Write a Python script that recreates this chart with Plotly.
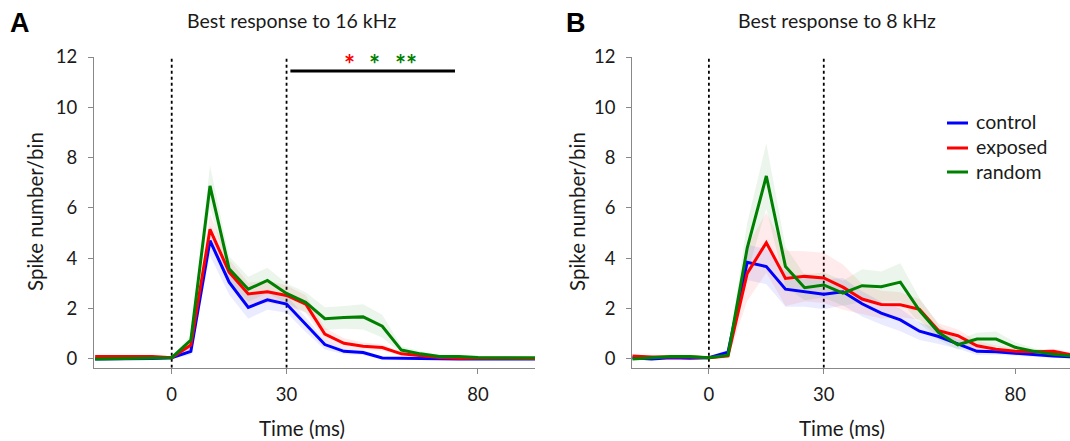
import plotly.graph_objects as go

W, H = 1070, 441

# ---------------- data ----------------
time_ms = [-20, -15, -10, -5, 0, 5, 10, 15, 20, 25, 30, 35, 40, 45, 50, 55, 60, 65, 70, 75, 80, 85, 90, 95]

control_A = [0.0, 0.0, 0.0, 0.02, 0.05, 0.3, 4.7, 3.05, 2.05, 2.35, 2.18, 1.37, 0.57, 0.3, 0.25, 0.04, 0.02, 0.02, 0.01, 0.0, 0.0, 0.0, 0.0, 0.0]
exposed_A = [0.1, 0.1, 0.1, 0.1, 0.05, 0.55, 5.15, 3.45, 2.58, 2.67, 2.52, 2.18, 0.99, 0.62, 0.5, 0.45, 0.2, 0.13, 0.06, 0.03, 0.02, 0.02, 0.02, 0.02]
random_A = [0.0, 0.02, 0.03, 0.03, 0.05, 0.75, 6.88, 3.58, 2.77, 3.12, 2.6, 2.25, 1.6, 1.65, 1.67, 1.3, 0.35, 0.2, 0.1, 0.1, 0.06, 0.05, 0.05, 0.05]
sem_control_A = [0.03, 0.03, 0.03, 0.03, 0.03, 0.15, 0.6, 0.5, 0.45, 0.4, 0.35, 0.3, 0.2, 0.12, 0.1, 0.05, 0.03, 0.03, 0.03, 0.03, 0.03, 0.03, 0.03, 0.03]
sem_exposed_A = [0.05, 0.05, 0.05, 0.05, 0.05, 0.2, 0.6, 0.5, 0.45, 0.45, 0.4, 0.35, 0.25, 0.2, 0.15, 0.12, 0.08, 0.05, 0.05, 0.05, 0.05, 0.05, 0.05, 0.05]
sem_random_A = [0.03, 0.03, 0.03, 0.03, 0.03, 0.2, 0.8, 0.5, 0.5, 0.5, 0.4, 0.4, 0.45, 0.45, 0.5, 0.45, 0.15, 0.1, 0.05, 0.05, 0.05, 0.05, 0.05, 0.05]

control_B = [0.05, 0.0, 0.05, 0.03, 0.05, 0.27, 3.84, 3.67, 2.77, 2.67, 2.57, 2.67, 2.19, 1.82, 1.55, 1.1, 0.89, 0.6, 0.3, 0.28, 0.22, 0.18, 0.12, 0.08]
exposed_B = [0.12, 0.08, 0.08, 0.08, 0.05, 0.12, 3.4, 4.62, 3.2, 3.28, 3.22, 2.85, 2.38, 2.16, 2.15, 1.97, 1.12, 0.92, 0.52, 0.38, 0.3, 0.28, 0.3, 0.15]
random_B = [0.0, 0.05, 0.1, 0.1, 0.05, 0.15, 4.4, 7.27, 3.67, 2.83, 2.94, 2.61, 2.91, 2.87, 3.05, 1.92, 1.05, 0.56, 0.79, 0.79, 0.46, 0.3, 0.18, 0.12]
sem_control_B = [0.05, 0.05, 0.05, 0.05, 0.05, 0.1, 0.7, 0.7, 0.7, 0.6, 0.6, 0.55, 0.5, 0.45, 0.45, 0.35, 0.3, 0.2, 0.15, 0.12, 0.1, 0.08, 0.08, 0.08]
sem_exposed_B = [0.05, 0.05, 0.05, 0.05, 0.05, 0.1, 1.1, 1.2, 1.1, 1.0, 1.0, 0.9, 0.6, 0.55, 0.5, 0.4, 0.3, 0.25, 0.2, 0.15, 0.12, 0.1, 0.1, 0.08]
sem_random_B = [0.05, 0.05, 0.05, 0.05, 0.05, 0.1, 1.0, 1.3, 0.8, 0.5, 0.5, 0.5, 0.65, 0.6, 0.75, 0.5, 0.3, 0.2, 0.25, 0.3, 0.2, 0.12, 0.1, 0.08]

group_names = ["control", "exposed", "random"]
panel_titles = ["Best response to 16 kHz", "Best response to 8 kHz"]
panel_letters = ["A", "B"]
x_tick_vals = [0, 30, 80]
y_tick_vals = [0, 2, 4, 6, 8, 10, 12]
stim_window = [0, 30]
sig_window_A = [31, 74]
sig_level_A = 11.44
sig_stars_A = [("*", 46.5, "red"), ("*", 53.0, "green"), ("**", 61.2, "green")]

# ---------------- style ----------------
line_colors = ["#0000ff", "#ff0000", "#008000"]
band_colors = ["rgba(0,0,255,0.08)", "rgba(255,0,0,0.08)", "rgba(0,128,0,0.08)"]
FONT = "Lato"
TXT = "#1a1a1a"
AXC = "#888888"


def px(x):
    return x / W


def py(y):
    return 1 - y / H


fig = go.Figure()

panels = [
    ("x", "y", [control_A, exposed_A, random_A], [sem_control_A, sem_exposed_A, sem_random_A]),
    ("x2", "y2", [control_B, exposed_B, random_B], [sem_control_B, sem_exposed_B, sem_random_B]),
]

for xa, ya, means, sems in panels:
    for i, (m, s) in enumerate(zip(means, sems)):
        upper = [a + b for a, b in zip(m, s)]
        lower = [a - b for a, b in zip(m, s)]
        fig.add_trace(go.Scatter(
            x=time_ms + time_ms[::-1], y=upper + lower[::-1],
            fill="toself", fillcolor=band_colors[i], line=dict(width=0),
            hoverinfo="skip", showlegend=False, xaxis=xa, yaxis=ya))
    for i, m in enumerate(means):
        fig.add_trace(go.Scatter(
            x=time_ms, y=m, mode="lines", name=group_names[i],
            line=dict(color=line_colors[i], width=3),
            showlegend=False, xaxis=xa, yaxis=ya))

axis_common = dict(
    showgrid=False, zeroline=False, showline=True, linecolor=AXC, linewidth=1.3,
    ticks="outside", ticklen=5, tickcolor=AXC, tickwidth=1.3,
    tickfont=dict(family=FONT, size=18.5, color=TXT), automargin=False,
)

y_bottom = -0.35
fig.update_layout(
    width=W, height=H,
    margin=dict(l=0, r=0, t=0, b=0),
    plot_bgcolor="white", paper_bgcolor="white",
    showlegend=False,
    xaxis=dict(axis_common, domain=[px(94), px(535)], range=[-20.3, 94.9],
               tickvals=x_tick_vals, ticklabelstandoff=5, anchor="y"),
    yaxis=dict(axis_common, domain=[py(367.7), py(57)], range=[y_bottom, 12],
               tickvals=y_tick_vals, ticklabelstandoff=7, anchor="x"),
    xaxis2=dict(axis_common, domain=[px(632.3), 1.0], range=[-20.0, 94.3],
                tickvals=x_tick_vals, ticklabelstandoff=5, anchor="y2"),
    yaxis2=dict(axis_common, domain=[py(367.7), py(57)], range=[y_bottom, 12],
                tickvals=y_tick_vals, ticklabelstandoff=7, anchor="x2"),
)

shapes = []
for xr, yr in [("x", "y"), ("x2", "y2")]:
    for t in stim_window:
        shapes.append(dict(type="line", xref=xr, yref=yr, x0=t, x1=t, y0=y_bottom, y1=12,
                           line=dict(color="black", width=1.8, dash="dot"), layer="below"))
shapes.append(dict(type="line", xref="x", yref="y", x0=sig_window_A[0], x1=sig_window_A[1],
                   y0=sig_level_A, y1=sig_level_A, line=dict(color="black", width=3)))

annotations = []
for s, t, c in sig_stars_A:
    annotations.append(dict(xref="x", yref="y", x=t, y=11.72, text="<b>" + s + "</b>",
                            showarrow=False, font=dict(family=FONT, size=26, color=c),
                            xanchor="center", yanchor="middle"))

# legend (manual, panel B)
leg_y = [123, 148, 172]
for i, name in enumerate(group_names):
    shapes.append(dict(type="line", xref="paper", yref="paper", x0=px(947), x1=px(968),
                       y0=py(leg_y[i]), y1=py(leg_y[i]), line=dict(color=line_colors[i], width=3)))
    annotations.append(dict(xref="paper", yref="paper", x=px(974), y=py(leg_y[i] - 1), text=name,
                            showarrow=False, xanchor="left", yanchor="middle",
                            font=dict(family=FONT, size=19.5, color=TXT)))

title_x = [291, 837]
letter_x = [8, 564]
ylab_x = [35, 577]
xlab_x = [302, 842]
for k in range(2):
    annotations.append(dict(xref="paper", yref="paper", x=px(title_x[k]), y=py(20), text=panel_titles[k],
                            showarrow=False, xanchor="center", yanchor="middle",
                            font=dict(family=FONT, size=19.5, color=TXT)))
    annotations.append(dict(xref="paper", yref="paper", x=px(letter_x[k]), y=py(23), text="<b>" + panel_letters[k] + "</b>",
                            showarrow=False, xanchor="left", yanchor="middle",
                            font=dict(family="Liberation Sans", size=27, color="black")))
    annotations.append(dict(xref="paper", yref="paper", x=px(ylab_x[k]), y=py(212), text="Spike number/bin",
                            showarrow=False, xanchor="center", yanchor="middle", textangle=-90,
                            font=dict(family=FONT, size=20.5, color=TXT)))
    annotations.append(dict(xref="paper", yref="paper", x=px(xlab_x[k]), y=py(428), text="Time (ms)",
                            showarrow=False, xanchor="center", yanchor="middle",
                            font=dict(family=FONT, size=20.5, color=TXT)))

fig.update_layout(shapes=shapes, annotations=annotations)
fig.write_html("out.html")
